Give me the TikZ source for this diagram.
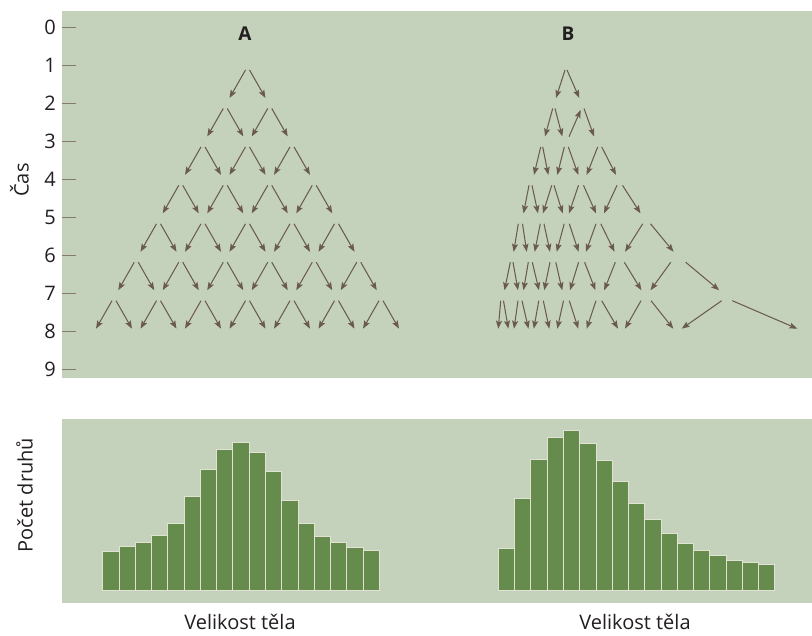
\documentclass[tikz,border=0pt]{standalone}
\usepackage{fontspec}
\setmainfont{Open Sans}
\usetikzlibrary{arrows.meta}
\definecolor{panelbg}{HTML}{C5D2BB}
\definecolor{arrowc}{HTML}{6B5B4F}
\definecolor{barfill}{HTML}{658C4D}
\definecolor{barline}{HTML}{E2E2D4}
\definecolor{tickc}{HTML}{857A6C}
\definecolor{txt}{HTML}{231F20}
\tikzset{
  arr/.style={draw=arrowc, line width=1.05pt, -{Stealth[length=8pt,width=6pt,inset=1.5pt]}},
  panel/.style={fill=panelbg, draw=none},
  bar/.style={fill=barfill, draw=barline, line width=0.8pt},
  tickl/.style={draw=tickc, line width=0.9pt},
  lab/.style={font=\fontsize{20}{24}\selectfont, text=txt, inner sep=0pt},
  headl/.style={font=\fontsize{19}{23}\selectfont\bfseries, text=txt, inner sep=0pt}
}
\newcommand\brow[2]{%
  \pgfmathsetmacro\ys{70+38.45*(#1-1)}%
  \pgfmathsetmacro\ye{\ys+28}%
  \foreach \a/\b in {#2} {\draw[arr] (\a,\ys) -- (\b,\ye);}%
}
\begin{document}
\begin{tikzpicture}[x=1pt,y=-1pt]
\useasboundingbox (0,0) rectangle (812,636);
\fill[white] (0,0) rectangle (812,636);
% panels
\path[panel] (62,11) rectangle (812,378);
\path[panel] (62,419) rectangle (812,603);
% time axis
\foreach \k in {0,...,9} {
  \pgfmathsetmacro\yy{27+38*\k}
  \draw[tickl] (62,\yy) -- (76,\yy);
  \node[lab, anchor=east] (t\k) at (56,\yy) {\k};
}
\node[lab, rotate=90, anchor=south] (cas) at (29,180) {Čas};
\node[lab, rotate=90, anchor=south] (pocet) at (33,495) {Počet druhů};
\node[headl] (A) at (245,34) {A};
\node[headl] (B) at (568,34) {B};
% tree A
\foreach \t in {1,...,7} {
  \pgfmathsetmacro\ys{70+38.45*(\t-1)}
  \pgfmathsetmacro\ye{\ys+28}
  \foreach \k in {1,...,\t} {
    \pgfmathsetmacro\xn{247.5+(\k-1-(\t-1)/2)*44.5}
    \draw[arr] (\xn-2,\ys) -- (\xn-18,\ye);
    \draw[arr] (\xn+2,\ys) -- (\xn+18,\ye);
  }
}
% tree B
\brow{1}{565/556, 567/579.3}
\brow{2}{552.7/545, 555/562.3, 584/594}
\draw[arr] (569,136.7) -- (580.7,110);
\brow{3}{540.7/534, 542.7/548.3, 564.3/557.3, 568.3/578.3, 597.7/586.7, 601.7/616}
\brow{4}{529/523.5, 532/538, 551.7/543, 554/562.7, 578.5/569, 583.5/596, 617/604, 622.5/640.5}
\brow{5}{518.3/513.7, 522.5/526.7, 540.3/534.7, 544/550, 564.2/556.7, 569.3/578.6, 596/586, 600.8/614.5, 642.7/625, 650.5/673.6}
\brow{6}{510.3/504.5, 513/518, 528.3/523.5, 532.3/539, 550/544.2, 555.8/562.2, 578.6/570, 584.6/595.5, 615.3/604.2, 624.3/641.4, 670.8/650.5, 685.7/719.2}
\brow{7}{500.7/498.3, 503.5/508.3, 518/514, 522/528.5, 538.8/533.8, 543.3/549.3, 563.5/557.3, 569.3/578.3, 596/586.7, 601.7/618, 641/625, 651/673.3, 721.7/681.7, 732.3/797.3}
% histogram A
\foreach \h [count=\i from 0] in {551,546.3,542.3,535.3,523.3,496.7,469.3,449.3,442.3,452.3,471.3,500.7,523.3,536.3,542.3,547.3,550.7} {
  \pgfmathsetmacro\xa{102.7+16.27*\i}
  \draw[bar] (\xa,590) rectangle (\xa+16.27,\h);
}
% histogram B
\foreach \h [count=\i from 0] in {548.7,498.3,459.3,437.7,430.3,443.3,460.7,481.7,503.3,519,533.3,543.3,550.7,555,560,562,564.3} {
  \pgfmathsetmacro\xb{498.3+16.27*\i}
  \draw[bar] (\xb,590) rectangle (\xb+16.27,\h);
}
\node[lab] (velA) at (240,622) {Velikost těla};
\node[lab] (velB) at (635,622) {Velikost těla};
\end{tikzpicture}
\end{document}
